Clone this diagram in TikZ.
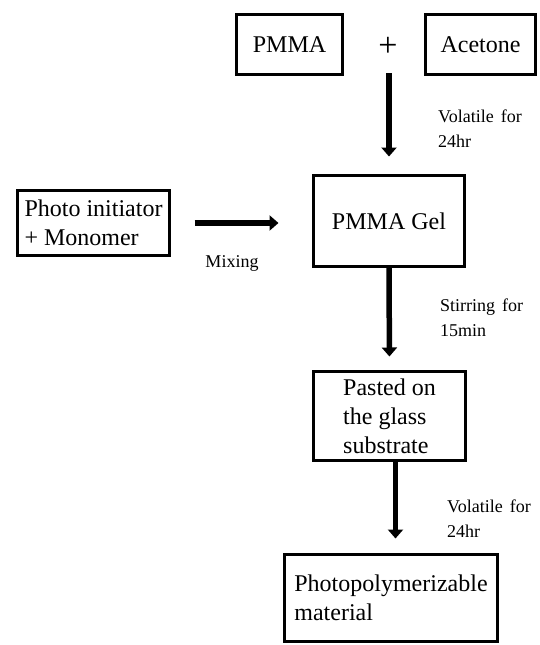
\documentclass[tikz,border=0pt]{standalone}
\usepackage{fontspec}
\setmainfont{Liberation Serif}
\usetikzlibrary{arrows.meta}

\begin{document}
\begin{tikzpicture}[x=1pt, y=-1pt,
	box/.style={draw, line width=3pt, inner sep=3pt, font=\fontsize{24}{29}\selectfont},
	note/.style={anchor=base west, align=left, inner sep=0pt, font=\fontsize{18}{25}\selectfont},
	flow/.style={line width=5.5pt, -{Triangle[width=15pt, length=9pt]}}]
	\useasboundingbox (0,0) rectangle (540,645);

	\node[box, minimum width=106pt, minimum height=60pt] (pmma) at (289.5, 44.5) {PMMA};
	\node[font=\fontsize{34}{34}\selectfont, inner sep=0pt] (plus) at (388, 47) {+};
	\node[box, minimum width=110pt, minimum height=60pt] (acetone) at (480.5, 44.5) {Acetone};
	\node[box, minimum width=151pt, minimum height=91pt] (gel) at (389, 221) {PMMA Gel};
	\node[box, align=left, minimum width=152pt, minimum height=65pt] (photo) at (93.5, 223) {Photo initiator\\+ Monomer};
	\node[box, align=left, minimum width=152pt, minimum height=89pt] (pasted) at (389.5, 416) {Pasted on\\the glass\\substrate};
	\node[box, align=left, minimum width=213pt, minimum height=87pt] (final) at (391, 598) {Photopolymerizable\\material};

	% base anchor sits on the last line
	\node[note] (vol1) at (438, 147) {Volatile\hspace{7pt}for\\24hr};
	\node[note] (stir) at (440, 336) {Stirring\hspace{7pt}for\\15min};
	\node[note] (vol2) at (447, 537) {Volatile\hspace{7pt}for\\24hr};
	\node[note, anchor=base] (mix) at (232, 267) {Mixing};

	\coordinate (join) at (389, 73);
	\draw[flow, shorten >=17.5pt] (join) -- (gel.north);
	\draw[flow, shorten <=23.5pt, shorten >=33.5pt] (photo.east) -- (photo.east -| gel.west);
	\draw[flow, shorten >=13.5pt] (gel.south) -- (pasted.north);
	\draw[flow, shorten >=14.5pt] ([xshift=6pt]pasted.south) -- ([xshift=6pt]pasted.south |- final.north);

\end{tikzpicture}
\end{document}
